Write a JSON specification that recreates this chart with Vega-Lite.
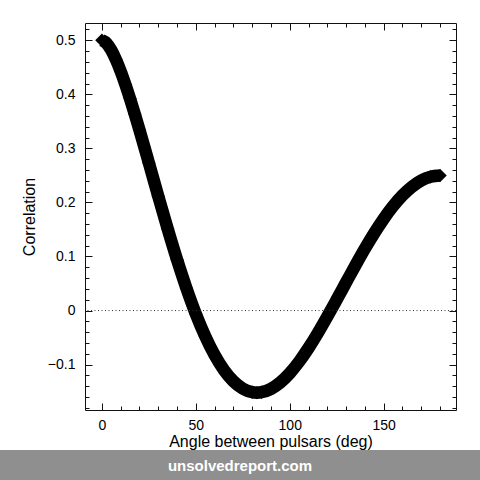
{
  "$schema": "https://vega.github.io/schema/vega-lite/v6.json",
  "width": 371,
  "height": 387,
  "autosize": {"type": "none"},
  "padding": {"left": 85, "top": 23, "right": 24, "bottom": 70},
  "background": "white",
  "config": {
    "view": {"stroke": null},
    "font": "Liberation Sans",
    "axis": {
      "grid": false,
      "domainColor": "#111",
      "domainWidth": 1,
      "tickColor": "#111",
      "tickWidth": 1,
      "labelFont": "Liberation Sans",
      "labelFontSize": 14,
      "labelColor": "#000",
      "titleFont": "Liberation Sans",
      "titleFontSize": 16,
      "titleFontWeight": "normal",
      "titleColor": "#000"
    }
  },
  "data": {
    "values": [
      {"angle": 0, "corr": 0.5},
      {"angle": 2.5, "corr": 0.4944},
      {"angle": 5, "corr": 0.4817},
      {"angle": 7.5, "corr": 0.4639},
      {"angle": 10, "corr": 0.4425},
      {"angle": 12.5, "corr": 0.4182},
      {"angle": 15, "corr": 0.3917},
      {"angle": 17.5, "corr": 0.3635},
      {"angle": 20, "corr": 0.3341},
      {"angle": 25, "corr": 0.2732},
      {"angle": 30, "corr": 0.2116},
      {"angle": 35, "corr": 0.1514},
      {"angle": 40, "corr": 0.0942},
      {"angle": 45, "corr": 0.0414},
      {"angle": 50, "corr": -0.0062},
      {"angle": 55, "corr": -0.0476},
      {"angle": 60, "corr": -0.0824},
      {"angle": 65, "corr": -0.1102},
      {"angle": 70, "corr": -0.1309},
      {"angle": 75, "corr": -0.1445},
      {"angle": 80, "corr": -0.1511},
      {"angle": 82.5, "corr": -0.1519},
      {"angle": 85, "corr": -0.1511},
      {"angle": 90, "corr": -0.1449},
      {"angle": 95, "corr": -0.1329},
      {"angle": 100, "corr": -0.1159},
      {"angle": 105, "corr": -0.0945},
      {"angle": 110, "corr": -0.0693},
      {"angle": 115, "corr": -0.0413},
      {"angle": 120, "corr": -0.0111},
      {"angle": 125, "corr": 0.0203},
      {"angle": 130, "corr": 0.0522},
      {"angle": 135, "corr": 0.0839},
      {"angle": 140, "corr": 0.1145},
      {"angle": 145, "corr": 0.1433},
      {"angle": 150, "corr": 0.1697},
      {"angle": 155, "corr": 0.1931},
      {"angle": 160, "corr": 0.213},
      {"angle": 165, "corr": 0.2289},
      {"angle": 170, "corr": 0.2406},
      {"angle": 175, "corr": 0.2476},
      {"angle": 180, "corr": 0.25}
    ]
  },
  "resolve": {"axis": {"x": "independent", "y": "independent"}},
  "layer": [
    {
      "mark": {"type": "line", "color": "#000", "strokeWidth": 12.5, "interpolate": "monotone"},
      "encoding": {
        "x": {
          "field": "angle",
          "type": "quantitative",
          "scale": {"domain": [-9, 188.5], "nice": false, "zero": false},
          "axis": {
            "orient": "bottom",
            "title": "Angle between pulsars (deg)",
            "values": [0, 10, 20, 30, 40, 50, 60, 70, 80, 90, 100, 110, 120, 130, 140, 150, 160, 170, 180],
            "labelExpr": "datum.value % 50 === 0 ? datum.label : ''",
            "tickSize": {"condition": {"test": "datum.value % 50 === 0", "value": -7}, "value": -4},
            "labelPadding": 15,
            "titlePadding": 1,
            "labelFlush": false
          }
        },
        "y": {
          "field": "corr",
          "type": "quantitative",
          "scale": {"domain": [-0.184, 0.532], "nice": false, "zero": false},
          "axis": {
            "orient": "left",
            "title": "Correlation",
            "values": [-0.18, -0.16, -0.14, -0.12, -0.1, -0.08, -0.06, -0.04, -0.02, 0, 0.02, 0.04, 0.06, 0.08, 0.1, 0.12, 0.14, 0.16, 0.18, 0.2, 0.22, 0.24, 0.26, 0.28, 0.3, 0.32, 0.34, 0.36, 0.38, 0.4, 0.42, 0.44, 0.46, 0.48, 0.5, 0.52],
            "format": ".1~f",
            "labelExpr": "abs(round(datum.value * 10) - datum.value * 10) < 0.0001 ? datum.label : ''",
            "tickSize": {"condition": {"test": "abs(round(datum.value * 10) - datum.value * 10) < 0.0001", "value": -7}, "value": -4},
            "labelPadding": 17,
            "titlePadding": 10,
            "labelFlush": false
          }
        }
      }
    },
    {
      "mark": {"type": "point", "shape": "diamond", "filled": true, "color": "#000", "size": 180, "opacity": 1},
      "encoding": {
        "x": {
          "field": "angle",
          "type": "quantitative",
          "axis": {
            "orient": "top",
            "title": null,
            "labels": false,
            "values": [0, 10, 20, 30, 40, 50, 60, 70, 80, 90, 100, 110, 120, 130, 140, 150, 160, 170, 180],
            "tickSize": {"condition": {"test": "datum.value % 50 === 0", "value": -7}, "value": -4}
          }
        },
        "y": {
          "field": "corr",
          "type": "quantitative",
          "axis": {
            "orient": "right",
            "title": null,
            "labels": false,
            "values": [-0.18, -0.16, -0.14, -0.12, -0.1, -0.08, -0.06, -0.04, -0.02, 0, 0.02, 0.04, 0.06, 0.08, 0.1, 0.12, 0.14, 0.16, 0.18, 0.2, 0.22, 0.24, 0.26, 0.28, 0.3, 0.32, 0.34, 0.36, 0.38, 0.4, 0.42, 0.44, 0.46, 0.48, 0.5, 0.52],
            "tickSize": {"condition": {"test": "abs(round(datum.value * 10) - datum.value * 10) < 0.0001", "value": -7}, "value": -4}
          }
        }
      }
    },
    {
      "data": {"values": [{"level": 0}]},
      "mark": {"type": "rule", "color": "#333", "strokeWidth": 1, "strokeDash": [1, 2.5]},
      "encoding": {
        "y": {"field": "level", "type": "quantitative", "axis": null}
      }
    },
    {
      "data": {"values": [{"site": "unsolvedreport.com"}]},
      "mark": {"type": "rect", "color": "#8f8f8f", "clip": false},
      "encoding": {
        "x": {"datum": -54.3, "type": "quantitative", "axis": null},
        "x2": {"datum": 201.3},
        "y": {"datum": -0.258, "type": "quantitative", "axis": null},
        "y2": {"datum": -0.33}
      }
    },
    {
      "data": {"values": [{"site": "unsolvedreport.com"}]},
      "mark": {"type": "text", "color": "#fff", "fontSize": 15, "fontWeight": "bold", "font": "Liberation Sans", "align": "center", "baseline": "middle"},
      "encoding": {
        "x": {"datum": 73.5, "type": "quantitative", "axis": null},
        "y": {"datum": -0.2876, "type": "quantitative", "axis": null},
        "text": {"field": "site"}
      }
    }
  ]
}
